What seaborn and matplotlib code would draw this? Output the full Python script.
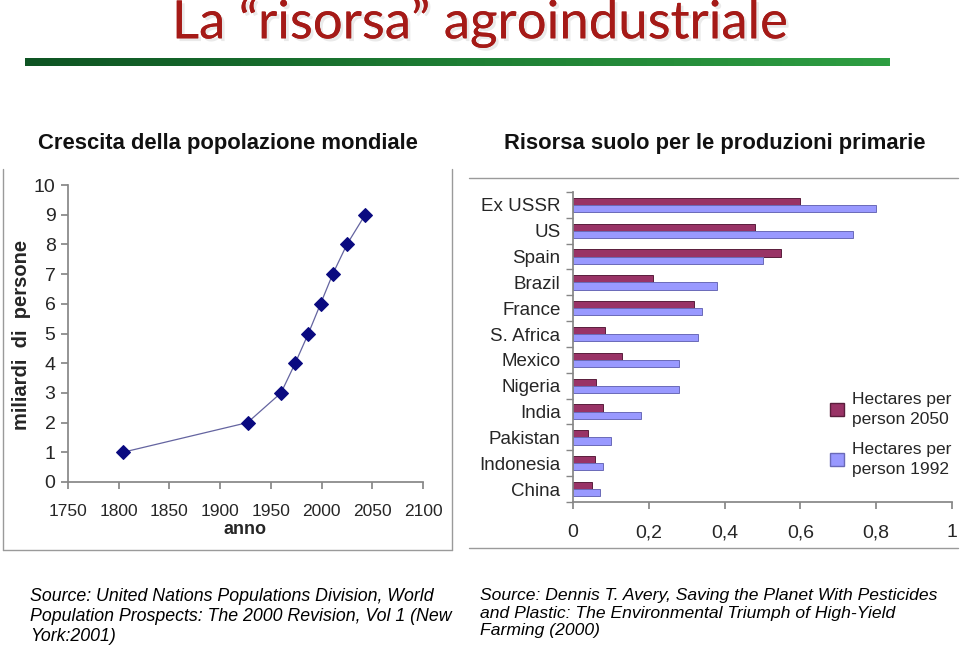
import numpy as np
import pandas as pd
import matplotlib
matplotlib.use('Agg')
import matplotlib.pyplot as plt
import matplotlib.patheffects as pe
from matplotlib.lines import Line2D
import seaborn as sns

sns.set_theme(style='white')
plt.rcParams['font.family'] = ['Liberation Sans', 'DejaVu Sans']

# ── data ─────────────────────────────────────────────────────────────────────
years = [1804, 1927, 1960, 1974, 1987, 1999, 2011, 2025, 2043]
billions = [1, 2, 3, 4, 5, 6, 7, 8, 9]

countries = ['Ex USSR', 'US', 'Spain', 'Brazil', 'France', 'S. Africa',
             'Mexico', 'Nigeria', 'India', 'Pakistan', 'Indonesia', 'China']
ha_2050 = [0.60, 0.48, 0.55, 0.21, 0.32, 0.085, 0.13, 0.06, 0.08, 0.04, 0.057, 0.05]
ha_1992 = [0.80, 0.74, 0.50, 0.38, 0.34, 0.33, 0.28, 0.28, 0.18, 0.10, 0.08, 0.07]
series_names = ['Hectares per\nperson 2050', 'Hectares per\nperson 1992']

pop_yticks = list(range(0, 11))
pop_xticks = list(range(1750, 2101, 50))
bar_xticks = [0, 0.2, 0.4, 0.6, 0.8, 1.0]
bar_xlabels = ['0', '0,2', '0,4', '0,6', '0,8', '1']

C2050, C1992 = '#993366', '#9999FF'
SPINE = '#868686'

fig = plt.figure(figsize=(9.6, 6.45), dpi=100)
W, H = 960, 645


def fx(px):
    return px / W


def fy(py):
    return 1 - py / H


# ── header ───────────────────────────────────────────────────────────────────
fig.text(0.5, fy(23), 'La “risorsa” agroindustriale', ha='center', va='center',
         fontsize=38, family=['Lato', 'DejaVu Sans'], color='#A51A17',
         path_effects=[pe.withSimplePatchShadow(offset=(2, -2), shadow_rgbFace='#bbbbbb', alpha=0.3),
                       pe.Normal()])
bar_ax = fig.add_axes([fx(25), fy(66), fx(865), 8 / H])
grad = np.linspace(0, 1, 256).reshape(1, -1)
cmap = matplotlib.colors.LinearSegmentedColormap.from_list('g', ['#0E5423', '#1E7E34', '#2E9E42'])
bar_ax.imshow(grad, aspect='auto', cmap=cmap)
bar_ax.axis('off')

fig.text(fx(228), fy(143), 'Crescita della popolazione mondiale', ha='center', va='center',
         fontsize=15.8, fontweight='bold', color='#111111')
fig.text(fx(715), fy(143), 'Risorsa suolo per le produzioni primarie', ha='center', va='center',
         fontsize=15.8, fontweight='bold', color='#111111')

# panel frames
for xs, ys in [([3, 3], [169, 550]), ([3, 452], [550, 550]), ([452, 452], [169, 550]),
               ([469, 958], [178, 178]), ([469, 958], [548, 548])]:
    fig.add_artist(Line2D([fx(x) for x in xs], [fy(y) for y in ys], color='#9a9a9a', lw=1))

# ── left: population ─────────────────────────────────────────────────────────
ax1 = fig.add_axes([fx(68), fy(482), fx(423 - 68), (482 - 185) / H])
sns.lineplot(x=years, y=billions, ax=ax1, color='#6464A0', linewidth=0.9,
             marker='D', markersize=7, markerfacecolor='#0A0A80', markeredgecolor='#0A0A80')
ax1.set_xlim(1750, 2100)
ax1.set_ylim(0, 10)
ax1.set_xticks(pop_xticks)
ax1.set_yticks(pop_yticks)
for s in ['top', 'right']:
    ax1.spines[s].set_visible(False)
for s in ['left', 'bottom']:
    ax1.spines[s].set_color(SPINE)
ax1.tick_params(axis='both', which='major', direction='out', length=5, color=SPINE,
                left=True, bottom=True)
ax1.tick_params(axis='x', pad=11, labelsize=12.5)
ax1.tick_params(axis='y', pad=4, labelsize=14)
ax1.set_xlabel('')
ax1.set_ylabel('')
fig.text(fx(245), fy(530), 'anno', ha='center', va='center', fontsize=13, fontweight='bold')
fig.text(fx(22), fy(335), 'miliardi  di  persone', ha='center', va='center', rotation=90,
         fontsize=14.5, fontweight='bold')

# ── right: land per person ───────────────────────────────────────────────────
df = pd.DataFrame({
    'country': countries * 2,
    'ha': ha_2050 + ha_1992,
    'serie': [series_names[0]] * len(countries) + [series_names[1]] * len(countries),
})
ax2 = fig.add_axes([fx(573), fy(502), fx(952 - 573), (502 - 192) / H])
sns.barplot(data=df, y='country', x='ha', hue='serie', order=countries,
            hue_order=series_names, palette=[C2050, C1992], width=0.55,
            orient='h', ax=ax2, legend=False, saturation=1)
edges = ['#5A1E3C', '#6A6AB8']
for cont, ec in zip(ax2.containers, edges):
    for p in cont:
        p.set_edgecolor(ec)
        p.set_linewidth(0.7)
ax2.set_xlim(0, 1)
ax2.set_ylim(11.5, -0.5)
ax2.set_xticks(bar_xticks)
ax2.set_xticklabels(bar_xlabels)
ax2.set_yticks(range(len(countries)))
ax2.set_yticks(np.arange(-0.5, len(countries), 1), minor=True)
for s in ['top', 'right']:
    ax2.spines[s].set_visible(False)
for s in ['left', 'bottom']:
    ax2.spines[s].set_color(SPINE)
ax2.tick_params(axis='y', which='major', length=0, pad=9, labelsize=13.5)
ax2.tick_params(axis='y', which='minor', direction='out', length=5, color=SPINE, left=True)
ax2.tick_params(axis='x', which='major', direction='out', length=5, color=SPINE, bottom=True,
                pad=11, labelsize=14)
ax2.set_xlabel('')
ax2.set_ylabel('')

handles = [matplotlib.patches.Patch(facecolor=C2050, edgecolor=edges[0]),
           matplotlib.patches.Patch(facecolor=C1992, edgecolor=edges[1])]
leg = fig.legend(handles, series_names, loc='upper left', bbox_to_anchor=(fx(823), fy(385)),
                 frameon=False, fontsize=12.5, handlelength=0.8, handleheight=0.8,
                 handletextpad=0.45, labelspacing=0.9, borderaxespad=0)
for t in leg.get_texts():
    t.set_linespacing(1.4)

# ── sources ──────────────────────────────────────────────────────────────────
fig.text(fx(30), fy(588), 'Source: United Nations Populations Division, World\n'
         'Population Prospects: The 2000 Revision, Vol 1 (New\nYork:2001)',
         ha='left', va='top', fontsize=12.8, style='italic', linespacing=1.22, color='black')
fig.text(fx(480), fy(588), 'Source: Dennis T. Avery, Saving the Planet With Pesticides\n'
         'and Plastic: The Environmental Triumph of High-Yield\nFarming (2000)',
         ha='left', va='top', fontsize=12.6, style='italic', linespacing=1.22, color='black')

fig.savefig('out.png', dpi=100)
